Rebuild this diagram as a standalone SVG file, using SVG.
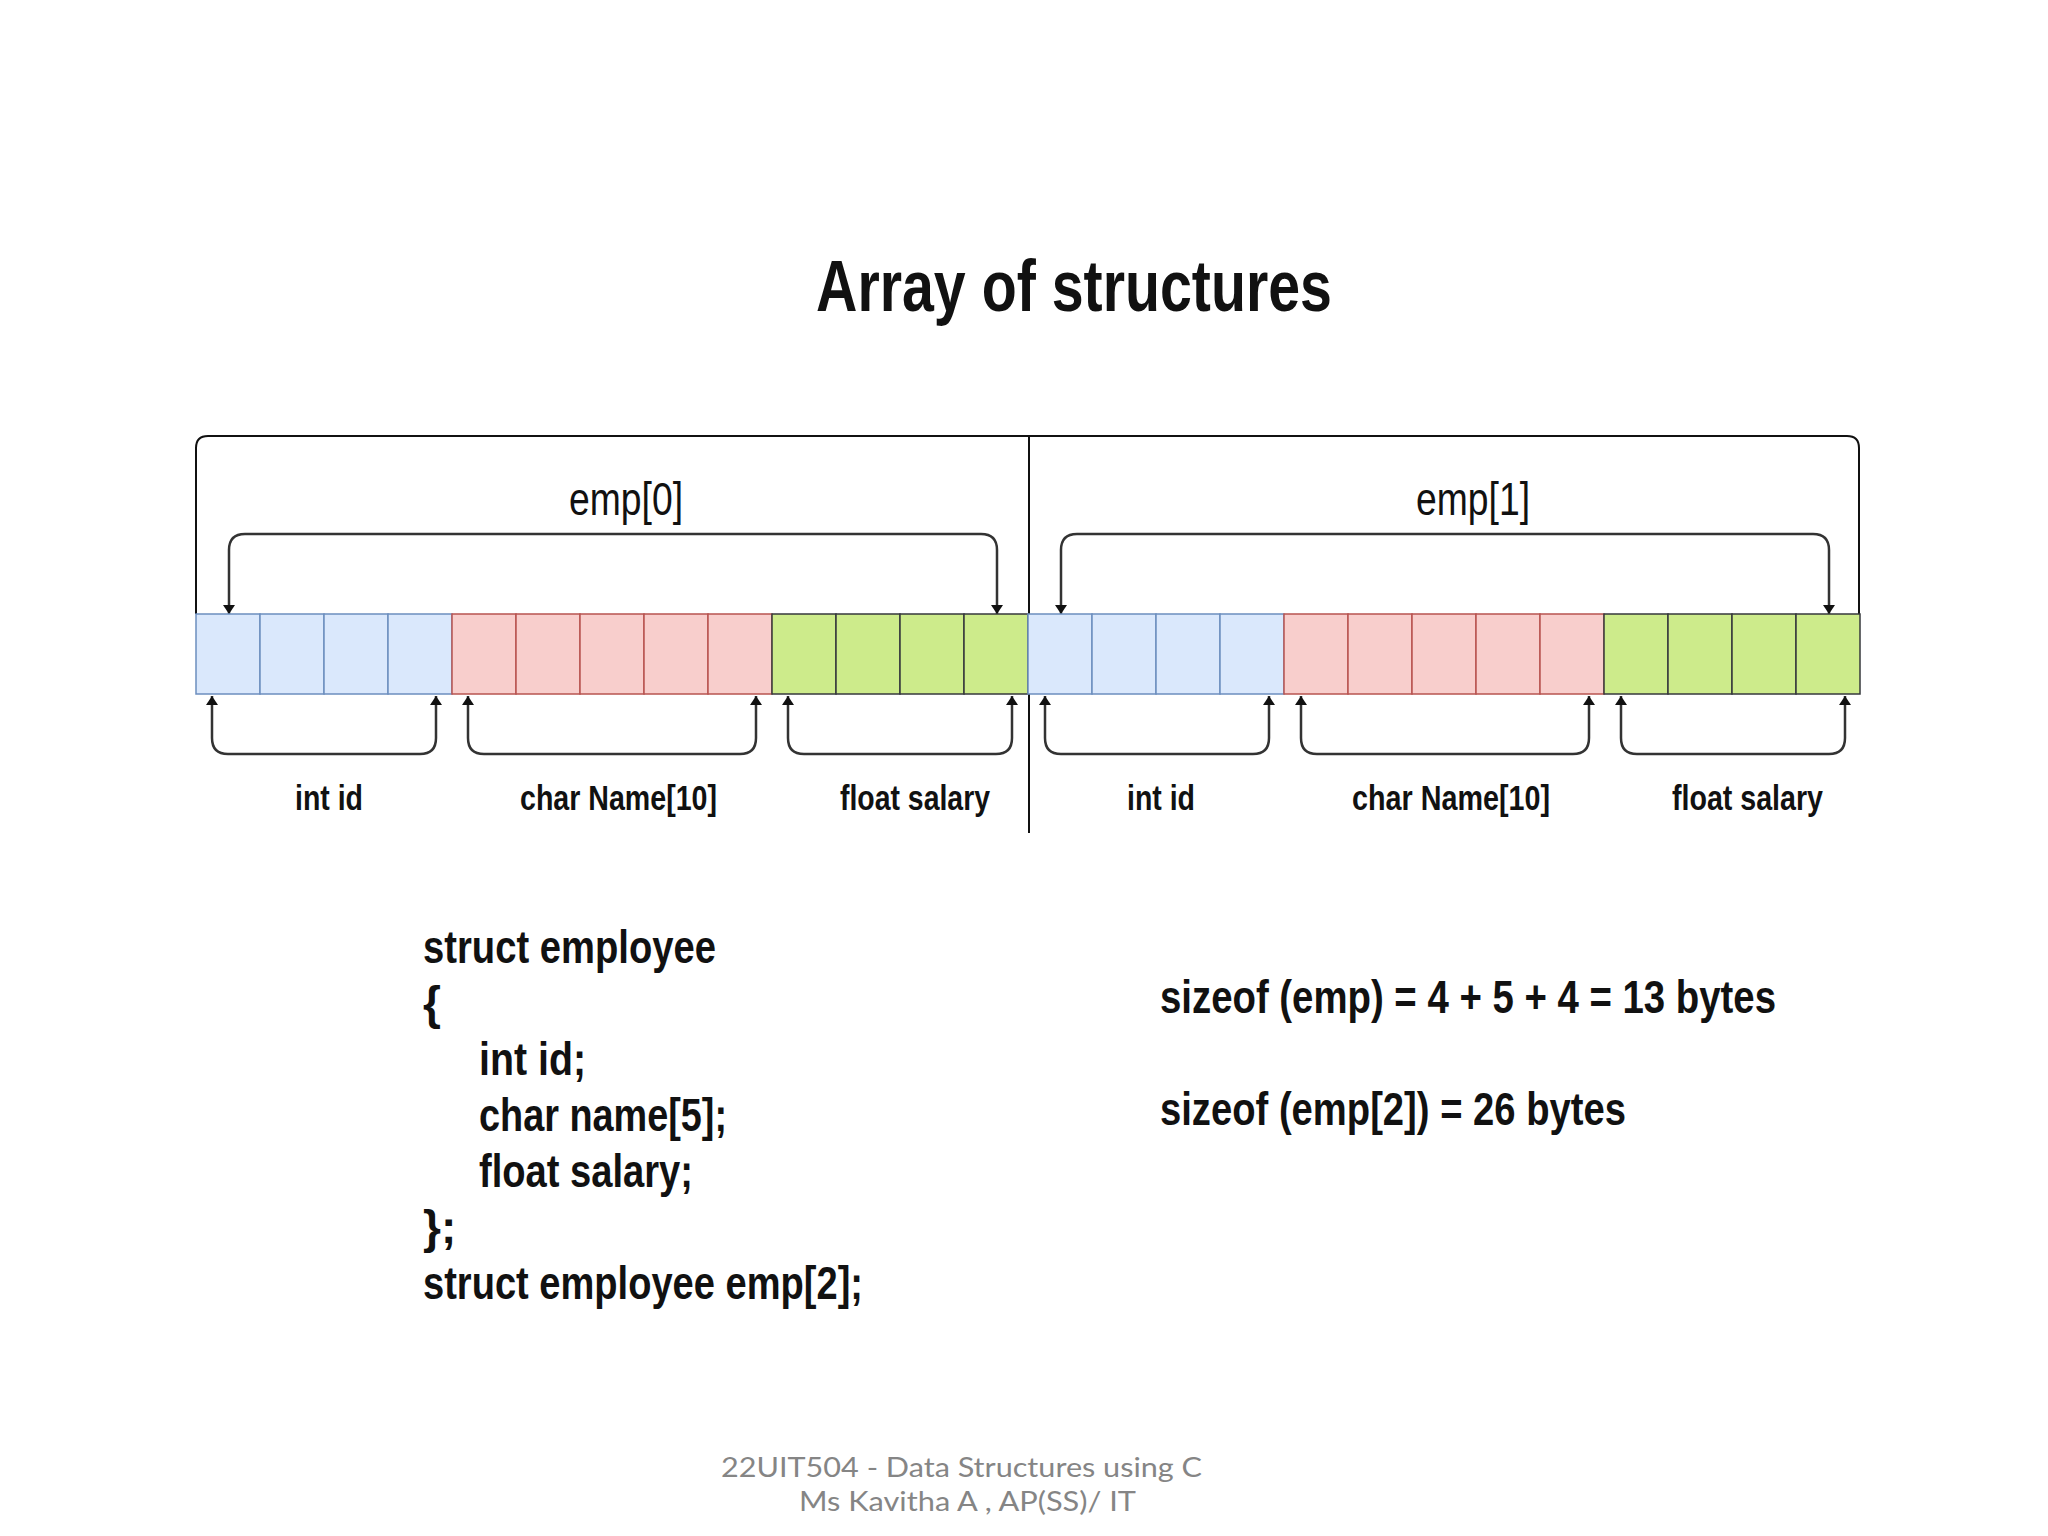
<svg xmlns="http://www.w3.org/2000/svg" width="2048" height="1536" viewBox="0 0 2048 1536">
<style>
.n{font-family:"Liberation Sans Narrow","Liberation Sans",Arial,sans-serif;fill:#111}
.b{font-weight:bold}
.blue{fill:#dae8fc;stroke:#6c8ebf;stroke-width:1.5}
.red{fill:#f8cecc;stroke:#b85450;stroke-width:1.5}
.green{fill:#cdeb8b;stroke:#36393d;stroke-width:1.5}
.br{fill:none;stroke:#333;stroke-width:2.5}
.ft{font-family:Lato,"Open Sans",sans-serif;fill:#858585;font-size:27px}
</style>
<defs>
<marker id="ah" viewBox="0 0 10 10" refX="10" refY="5" markerWidth="9" markerHeight="12" markerUnits="userSpaceOnUse" orient="auto-start-reverse" preserveAspectRatio="none">
<path d="M0,0 L10,5 L0,10 Z" fill="#111"/>
</marker>
</defs>
<rect width="2048" height="1536" fill="#fff"/>
<text class="n b" x="816" y="311" font-size="72" textLength="516" lengthAdjust="spacingAndGlyphs">Array of structures</text>

<g id="connectors">
<path d="M196,614 V448 Q196,436 208,436 H1847 Q1859,436 1859,448 V614" fill="none" stroke="#111" stroke-width="2"/>
<line x1="1029" y1="436" x2="1029" y2="833" stroke="#111" stroke-width="2"/>
<path class="br" d="M229,614 V550 Q229,534 245,534 H981 Q997,534 997,550 V614" marker-start="url(#ah)" marker-end="url(#ah)"/>
<path class="br" d="M1061,614 V550 Q1061,534 1077,534 H1813 Q1829,534 1829,550 V614" marker-start="url(#ah)" marker-end="url(#ah)"/>
<path class="br" d="M212,696 V738 Q212,754 228,754 H420 Q436,754 436,738 V696" marker-start="url(#ah)" marker-end="url(#ah)"/>
<path class="br" d="M468,696 V738 Q468,754 484,754 H740 Q756,754 756,738 V696" marker-start="url(#ah)" marker-end="url(#ah)"/>
<path class="br" d="M788,696 V738 Q788,754 804,754 H996 Q1012,754 1012,738 V696" marker-start="url(#ah)" marker-end="url(#ah)"/>
<path class="br" d="M1045,696 V738 Q1045,754 1061,754 H1253 Q1269,754 1269,738 V696" marker-start="url(#ah)" marker-end="url(#ah)"/>
<path class="br" d="M1301,696 V738 Q1301,754 1317,754 H1573 Q1589,754 1589,738 V696" marker-start="url(#ah)" marker-end="url(#ah)"/>
<path class="br" d="M1621,696 V738 Q1621,754 1637,754 H1829 Q1845,754 1845,738 V696" marker-start="url(#ah)" marker-end="url(#ah)"/>
</g>

<g id="emp0">
<rect class="blue" x="196" y="614" width="64" height="80"/>
<rect class="blue" x="260" y="614" width="64" height="80"/>
<rect class="blue" x="324" y="614" width="64" height="80"/>
<rect class="blue" x="388" y="614" width="64" height="80"/>
<rect class="red" x="452" y="614" width="64" height="80"/>
<rect class="red" x="516" y="614" width="64" height="80"/>
<rect class="red" x="580" y="614" width="64" height="80"/>
<rect class="red" x="644" y="614" width="64" height="80"/>
<rect class="red" x="708" y="614" width="64" height="80"/>
<rect class="green" x="772" y="614" width="64" height="80"/>
<rect class="green" x="836" y="614" width="64" height="80"/>
<rect class="green" x="900" y="614" width="64" height="80"/>
<rect class="green" x="964" y="614" width="64" height="80"/>
<text class="n" x="569" y="515" font-size="46" textLength="114" lengthAdjust="spacingAndGlyphs">emp[0]</text>
<text class="n b" x="295" y="810" font-size="35" textLength="68" lengthAdjust="spacingAndGlyphs">int id</text>
<text class="n b" x="520" y="810" font-size="35" textLength="197" lengthAdjust="spacingAndGlyphs">char Name[10]</text>
<text class="n b" x="840" y="810" font-size="35" textLength="150" lengthAdjust="spacingAndGlyphs">float salary</text>
</g>

<g id="emp1">
<rect class="blue" x="1028" y="614" width="64" height="80"/>
<rect class="blue" x="1092" y="614" width="64" height="80"/>
<rect class="blue" x="1156" y="614" width="64" height="80"/>
<rect class="blue" x="1220" y="614" width="64" height="80"/>
<rect class="red" x="1284" y="614" width="64" height="80"/>
<rect class="red" x="1348" y="614" width="64" height="80"/>
<rect class="red" x="1412" y="614" width="64" height="80"/>
<rect class="red" x="1476" y="614" width="64" height="80"/>
<rect class="red" x="1540" y="614" width="64" height="80"/>
<rect class="green" x="1604" y="614" width="64" height="80"/>
<rect class="green" x="1668" y="614" width="64" height="80"/>
<rect class="green" x="1732" y="614" width="64" height="80"/>
<rect class="green" x="1796" y="614" width="64" height="80"/>
<text class="n" x="1416" y="515" font-size="46" textLength="114" lengthAdjust="spacingAndGlyphs">emp[1]</text>
<text class="n b" x="1127" y="810" font-size="35" textLength="68" lengthAdjust="spacingAndGlyphs">int id</text>
<text class="n b" x="1352" y="810" font-size="35" textLength="198" lengthAdjust="spacingAndGlyphs">char Name[10]</text>
<text class="n b" x="1672" y="810" font-size="35" textLength="151" lengthAdjust="spacingAndGlyphs">float salary</text>
</g>

<g id="code">
<text class="n b" x="423" y="963" font-size="46" textLength="293" lengthAdjust="spacingAndGlyphs">struct employee</text>
<text class="n b" x="423" y="1019" font-size="46">{</text>
<text class="n b" x="479" y="1075" font-size="46" textLength="107" lengthAdjust="spacingAndGlyphs">int id;</text>
<text class="n b" x="479" y="1131" font-size="46" textLength="248" lengthAdjust="spacingAndGlyphs">char name[5];</text>
<text class="n b" x="479" y="1187" font-size="46" textLength="214" lengthAdjust="spacingAndGlyphs">float salary;</text>
<text class="n b" x="423" y="1243" font-size="46">};</text>
<text class="n b" x="423" y="1299" font-size="46" textLength="440" lengthAdjust="spacingAndGlyphs">struct employee emp[2];</text>
</g>

<g id="sizes">
<text class="n b" x="1160" y="1013" font-size="46" textLength="616" lengthAdjust="spacingAndGlyphs">sizeof (emp) = 4 + 5 + 4 = 13 bytes</text>
<text class="n b" x="1160" y="1125" font-size="46" textLength="466" lengthAdjust="spacingAndGlyphs">sizeof (emp[2]) = 26 bytes</text>
</g>

<g id="footer">
<text class="ft" x="721" y="1477" textLength="481" lengthAdjust="spacingAndGlyphs">22UIT504 - Data Structures using C</text>
<text class="ft" x="799" y="1511" textLength="337" lengthAdjust="spacingAndGlyphs">Ms Kavitha A , AP(SS)/ IT</text>
</g>
</svg>
